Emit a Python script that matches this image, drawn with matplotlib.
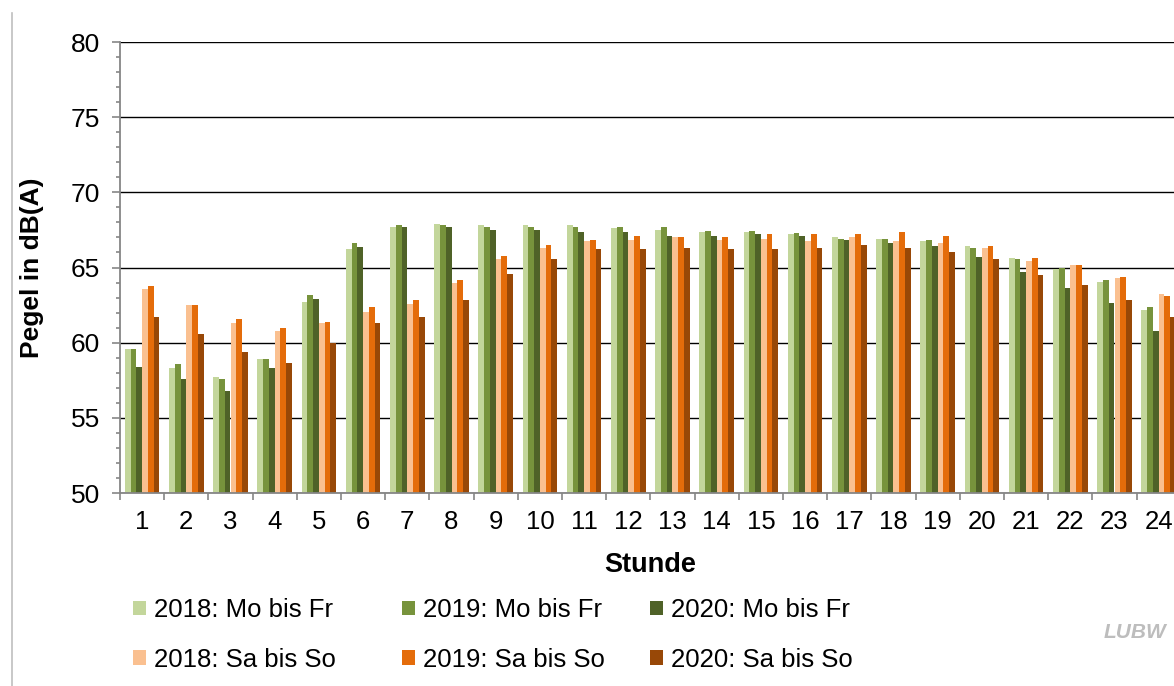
import numpy as np
import matplotlib.pyplot as plt
from matplotlib.lines import Line2D

plt.rcParams['font.family'] = ['Liberation Sans', 'DejaVu Sans']

stunden = np.arange(1, 25)

# Mittelungspegel je Stunde (dB(A))
mofr_2018 = [59.6, 58.3, 57.7, 58.9, 62.7, 66.2, 67.7, 67.9, 67.85, 67.85, 67.8, 67.6,
             67.5, 67.35, 67.35, 67.2, 67.05, 66.9, 66.75, 66.4, 65.6, 64.9, 64.05, 62.15]
mofr_2019 = [59.6, 58.6, 57.6, 58.9, 63.2, 66.6, 67.8, 67.85, 67.7, 67.7, 67.7, 67.7,
             67.7, 67.45, 67.45, 67.3, 66.9, 66.9, 66.8, 66.3, 65.55, 65.0, 64.15, 62.35]
mofr_2020 = [58.4, 57.6, 56.8, 58.3, 62.9, 66.35, 67.7, 67.7, 67.5, 67.5, 67.35, 67.35,
             67.1, 67.1, 67.2, 67.1, 66.85, 66.65, 66.4, 65.7, 64.7, 63.65, 62.65, 60.8]
saso_2018 = [63.6, 62.5, 61.3, 60.8, 61.3, 62.05, 62.6, 63.95, 65.55, 66.3, 66.75, 66.8,
             67.0, 66.8, 66.9, 66.75, 67.0, 66.75, 66.65, 66.3, 65.4, 65.15, 64.3, 63.25]
saso_2019 = [63.8, 62.5, 61.6, 61.0, 61.4, 62.35, 62.85, 64.2, 65.75, 66.5, 66.85, 67.1,
             67.0, 67.0, 67.2, 67.2, 67.2, 67.35, 67.1, 66.4, 65.65, 65.15, 64.35, 63.1]
saso_2020 = [61.7, 60.6, 59.4, 58.65, 60.0, 61.3, 61.7, 62.85, 64.6, 65.55, 66.25, 66.25,
             66.3, 66.25, 66.25, 66.3, 66.5, 66.3, 66.0, 65.55, 64.5, 63.85, 62.85, 61.7]

reihen = [mofr_2018, mofr_2019, mofr_2020, saso_2018, saso_2019, saso_2020]
namen = ['2018: Mo bis Fr', '2019: Mo bis Fr', '2020: Mo bis Fr',
         '2018: Sa bis So', '2019: Sa bis So', '2020: Sa bis So']
farben = ['#C3D69B', '#77933C', '#4F6228', '#FAC090', '#E46C0A', '#984807']

W, H = 1174, 686
fig = plt.figure(figsize=(W / 100, H / 100), dpi=100)
ax = fig.add_axes([120 / W, 1 - 493 / H, 1060.8 / W, (493 - 42) / H])

breite = 0.131
balken = []
for i, (werte, farbe, name) in enumerate(zip(reihen, farben, namen)):
    versatz = (i - 2.5) * breite
    b = ax.bar(stunden + versatz, np.array(werte) - 50, width=breite, bottom=50,
               color=farbe, label=name, linewidth=0, zorder=3)
    balken.append(b)

ax.set_xlim(0.5, 24.5)
ax.set_ylim(50, 80)

# y-Achse
ax.set_yticks(np.arange(50, 81, 5))
ax.set_yticks(np.arange(50, 81, 1), minor=True)
ax.tick_params(axis='y', which='major', direction='out', length=5.5, width=1.2,
               color='#868686', labelsize=19, pad=9)
ax.tick_params(axis='y', which='minor', direction='out', length=3, width=1.2,
               color='#868686')
ax.yaxis.grid(True, which='major', color='#000000', linewidth=1.0, zorder=1)
ax.set_axisbelow(True)

# x-Achse: Striche zwischen den Stunden
ax.set_xticks(stunden)
ax.set_xticklabels([str(s) for s in stunden])
ax.set_xticks(np.arange(0.5, 25, 1), minor=True)
ax.tick_params(axis='x', which='major', length=0, labelsize=18.5, pad=12)
ax.tick_params(axis='x', which='minor', direction='out', length=5, width=1.2,
               color='#868686')

for s in ['top', 'right']:
    ax.spines[s].set_visible(False)
for s in ['left', 'bottom']:
    ax.spines[s].set_color('#868686')
    ax.spines[s].set_linewidth(1.3)
    ax.spines[s].set_zorder(4)

fig.text(32 / W, 1 - 267.5 / H, 'Pegel in dB(A)', rotation=90, ha='center', va='center',
         fontsize=19, fontweight='bold')
fig.text(650 / W, 1 - 565 / H, 'Stunde', ha='center', va='center',
         fontsize=19.5, fontweight='bold')

# Legende in drei Spalten
spalten_x = [133, 402, 650]
for k, x0 in enumerate(spalten_x):
    leg = fig.legend([balken[k], balken[k + 3]], [namen[k], namen[k + 3]],
                     loc='upper left', bbox_to_anchor=(x0 / W, 1 - 598 / H),
                     frameon=False, fontsize=18.5, handlelength=0.5, handleheight=0.5,
                     handletextpad=0.3, labelspacing=1.0, borderpad=0,
                     borderaxespad=0)

fig.text(1135 / W, 1 - 632 / H, 'LUBW', ha='center', va='center', fontsize=15,
         fontweight='bold', fontstyle='italic', color='#BDBDBD')

# linker Rahmen
fig.add_artist(Line2D([12 / W, 12 / W], [0, 1 - 13 / H], transform=fig.transFigure,
                      color='#BFBFBF', linewidth=1.2))

fig.savefig('out.png', dpi=100)
